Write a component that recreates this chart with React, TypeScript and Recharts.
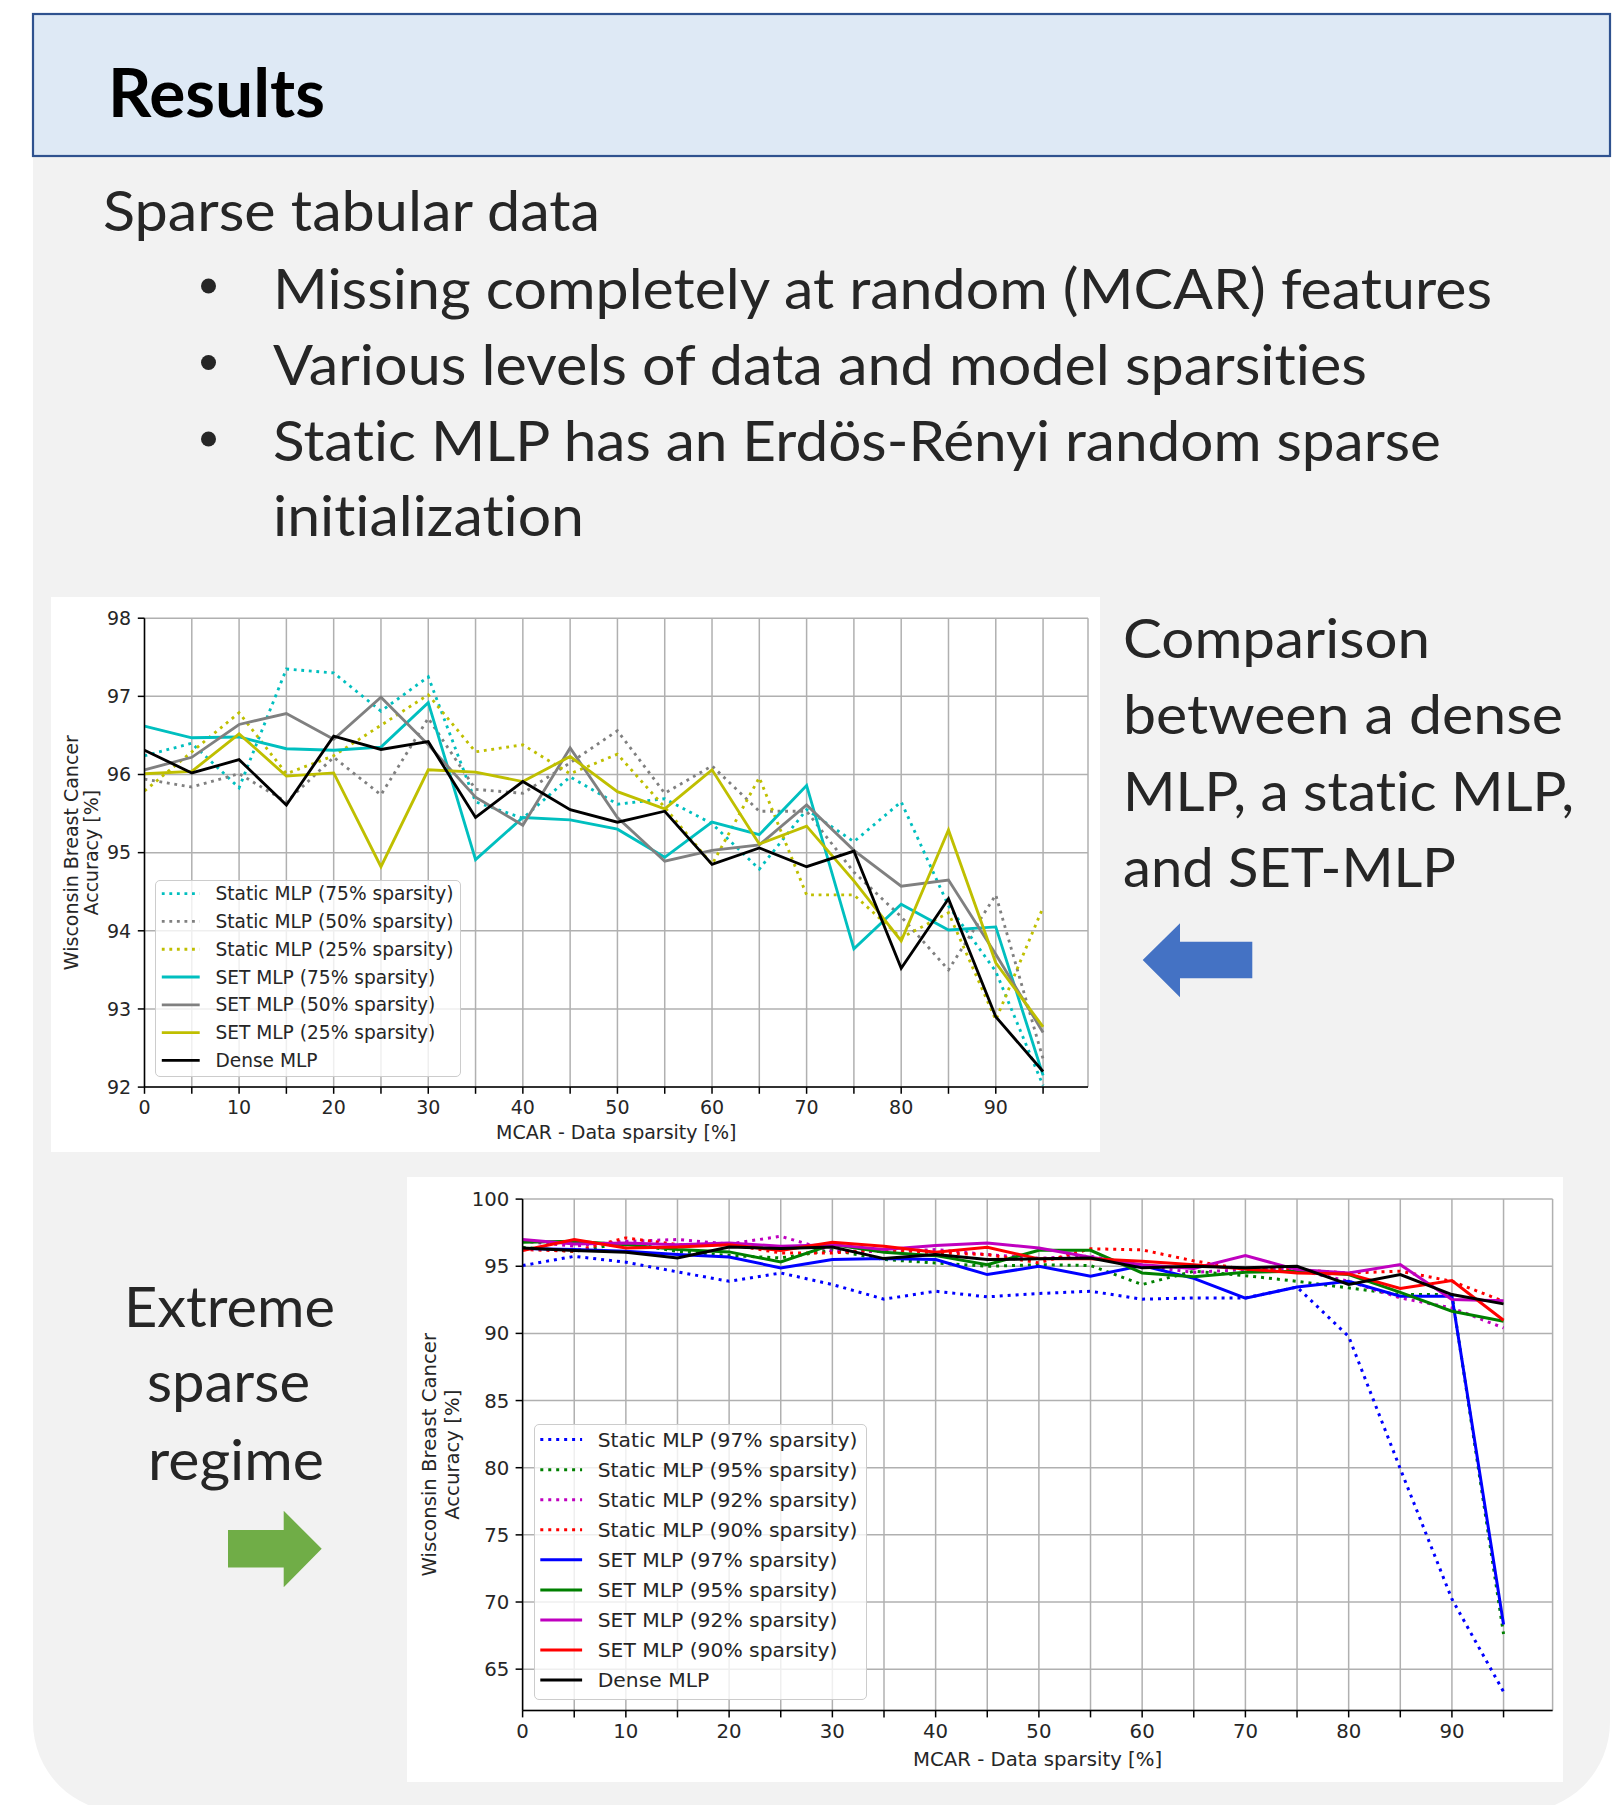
import React from 'react';
import { LineChart, Line, XAxis, YAxis, CartesianGrid, Legend } from 'recharts';

// ---------- shared x values ----------
const X_VALUES = [0, 5, 10, 15, 20, 25, 30, 35, 40, 45, 50, 55, 60, 65, 70, 75, 80, 85, 90, 95];
const X_DOMAIN_MAX = 99.75;

// ---------- chart 1 (comparison) ----------
const C1_Y_TICKS = [92, 93, 94, 95, 96, 97, 98];
const c1Static75 = [96.24, 96.4, 95.83, 97.35, 97.3, 96.81, 97.25, 95.65, 95.44, 95.97, 95.62, 95.69, 95.37, 94.79, 95.55, 95.14, 95.65, 94.32, 93.48, 92.02];
const c1Static50 = [95.94, 95.84, 96.01, 95.65, 96.22, 95.74, 96.72, 95.81, 95.76, 96.15, 96.56, 95.76, 96.11, 95.53, 95.53, 94.75, 94.18, 93.5, 94.46, 92.36];
const c1Static25 = [95.79, 96.29, 96.79, 96.01, 96.24, 96.63, 97.02, 96.29, 96.38, 96.01, 96.26, 95.58, 94.85, 95.96, 94.46, 94.46, 93.91, 94.23, 92.86, 94.3];
const c1Set75 = [96.62, 96.47, 96.48, 96.33, 96.31, 96.35, 96.92, 94.91, 95.45, 95.42, 95.3, 94.94, 95.39, 95.23, 95.86, 93.77, 94.34, 94.01, 94.05, 92.15];
const c1Set50 = [96.06, 96.22, 96.64, 96.78, 96.45, 96.99, 96.38, 95.71, 95.35, 96.34, 95.45, 94.89, 95.03, 95.1, 95.61, 95.03, 94.57, 94.65, 93.7, 92.7];
const c1Set25 = [96.01, 96.04, 96.52, 95.98, 96.02, 94.82, 96.06, 96.03, 95.91, 96.23, 95.78, 95.56, 96.06, 95.11, 95.34, 94.64, 93.87, 95.29, 93.59, 92.77];
const c1Dense = [96.31, 96.02, 96.19, 95.61, 96.49, 96.32, 96.42, 95.45, 95.91, 95.55, 95.39, 95.53, 94.85, 95.06, 94.82, 95.02, 93.52, 94.41, 92.9, 92.2];

const C1_SERIES = [
  { key: 's75', name: 'Static MLP (75% sparsity)', color: '#00bfbf', dotted: true, values: c1Static75 },
  { key: 's50', name: 'Static MLP (50% sparsity)', color: '#808080', dotted: true, values: c1Static50 },
  { key: 's25', name: 'Static MLP (25% sparsity)', color: '#bfbf00', dotted: true, values: c1Static25 },
  { key: 't75', name: 'SET MLP (75% sparsity)', color: '#00bfbf', dotted: false, values: c1Set75 },
  { key: 't50', name: 'SET MLP (50% sparsity)', color: '#808080', dotted: false, values: c1Set50 },
  { key: 't25', name: 'SET MLP (25% sparsity)', color: '#bfbf00', dotted: false, values: c1Set25 },
  { key: 'dense', name: 'Dense MLP', color: '#000000', dotted: false, values: c1Dense },
];

// ---------- chart 2 (extreme sparse regime) ----------
const C2_Y_TICKS = [65, 70, 75, 80, 85, 90, 95, 100];
const C2_Y_MIN = 61.93;
const c2Static97 = [95.05, 95.74, 95.3, 94.58, 93.88, 94.5, 93.64, 92.55, 93.14, 92.72, 92.97, 93.14, 92.55, 92.64, 92.64, 93.45, 89.77, 79.92, 70.22, 63.32];
const c2Static95 = [96.4, 96.1, 96.75, 96.1, 95.8, 95.62, 96.2, 95.5, 95.25, 95.0, 95.12, 95.05, 93.64, 94.63, 94.3, 93.88, 93.39, 92.89, 92.89, 67.62];
const c2Static92 = [96.86, 96.49, 96.86, 96.99, 96.66, 97.23, 96.12, 96.1, 96.24, 95.87, 95.6, 95.75, 95.0, 94.55, 94.75, 94.75, 93.88, 92.64, 91.9, 90.41];
const c2Static90 = [96.24, 96.12, 97.11, 96.61, 96.61, 95.99, 95.99, 96.24, 96.0, 95.87, 95.25, 96.3, 96.22, 95.4, 94.75, 94.75, 94.5, 94.63, 93.88, 92.39];
const c2Set97 = [96.32, 96.24, 96.12, 95.87, 95.69, 94.88, 95.5, 95.57, 95.5, 94.38, 95.0, 94.26, 95.05, 94.1, 92.62, 93.46, 93.88, 92.77, 92.77, 68.33];
const c2Set95 = [96.79, 96.86, 96.61, 96.24, 96.07, 95.32, 96.61, 96.04, 95.79, 95.12, 96.19, 96.19, 94.5, 94.22, 94.55, 94.63, 94.38, 93.06, 91.65, 90.91];
const c2Set92 = [96.99, 96.66, 96.74, 96.61, 96.74, 96.49, 96.61, 96.24, 96.54, 96.74, 96.36, 95.67, 95.12, 94.84, 95.79, 94.75, 94.5, 95.12, 92.52, 92.44];
const c2Set90 = [96.17, 96.99, 96.36, 96.44, 96.61, 96.17, 96.79, 96.49, 96.04, 96.41, 95.55, 95.55, 95.37, 95.12, 94.8, 94.5, 94.43, 93.34, 93.93, 90.98];
const c2Dense = [96.36, 96.17, 96.04, 95.62, 96.44, 96.32, 96.44, 95.57, 95.87, 95.5, 95.55, 95.62, 94.88, 95.0, 94.88, 95.0, 93.64, 94.38, 92.89, 92.2];

const C2_SERIES = [
  { key: 's97', name: 'Static MLP (97% sparsity)', color: '#0000ff', dotted: true, values: c2Static97 },
  { key: 's95', name: 'Static MLP (95% sparsity)', color: '#008000', dotted: true, values: c2Static95 },
  { key: 's92', name: 'Static MLP (92% sparsity)', color: '#bf00bf', dotted: true, values: c2Static92 },
  { key: 's90', name: 'Static MLP (90% sparsity)', color: '#ff0000', dotted: true, values: c2Static90 },
  { key: 't97', name: 'SET MLP (97% sparsity)', color: '#0000ff', dotted: false, values: c2Set97 },
  { key: 't95', name: 'SET MLP (95% sparsity)', color: '#008000', dotted: false, values: c2Set95 },
  { key: 't92', name: 'SET MLP (92% sparsity)', color: '#bf00bf', dotted: false, values: c2Set92 },
  { key: 't90', name: 'SET MLP (90% sparsity)', color: '#ff0000', dotted: false, values: c2Set90 },
  { key: 'dense', name: 'Dense MLP', color: '#000000', dotted: false, values: c2Dense },
];

const X_LABEL = 'MCAR - Data sparsity [%]';
const Y_LABEL_1 = 'Wisconsin Breast Cancer';
const Y_LABEL_2 = 'Accuracy [%]';

const MPL_FONT = "'DejaVu Sans', Verdana, sans-serif";
const POSTER_FONT = "Lato, 'Open Sans', sans-serif";
const TXT = '#262626';

function buildRows(series: any[]) {
  return X_VALUES.map((x, i) => {
    const row: any = { x };
    series.forEach((s) => { row[s.key] = s.values[i]; });
    return row;
  });
}

function LegendBox(p: any) {
  const { series, width, height, fontSize, rowStart, rowGap, lineX1, lineX2, textX, lw, dash } = p;
  return (
    <div style={{ position: 'relative', width, height }}>
      <div style={{ position: 'absolute', inset: 0, background: 'rgba(255,255,255,0.8)', border: '1.5px solid #cccccc', borderRadius: 5, boxSizing: 'border-box' }} />
      <svg width={width} height={height} style={{ position: 'absolute', left: 0, top: 0, display: 'block' }}>
        {series.map((s: any, i: number) => {
          const y = rowStart + i * rowGap;
          return (
            <g key={s.key}>
              <line x1={lineX1} x2={lineX2} y1={y} y2={y} stroke={s.color} strokeWidth={lw} strokeDasharray={s.dotted ? dash : undefined} />
              <text x={textX} y={y} dominantBaseline="central" fontFamily={MPL_FONT} fontSize={fontSize} fill={TXT}>{s.name}</text>
            </g>
          );
        })}
      </svg>
    </div>
  );
}

function Chart(props: any) {
  const c = props.cfg;
  const rows = buildRows(c.series);
  const plotH = c.height - c.plotTop - c.plotBottom;
  const plotW = c.width - c.plotLeft - c.plotRight;
  const cy = c.plotTop + plotH / 2;
  const cx = c.plotLeft + plotW / 2;
  const tickStyle = { fontSize: c.fontSize, fill: TXT, fontFamily: MPL_FONT };
  return (
    <div style={{ position: 'absolute', left: c.left, top: c.top, width: c.width, height: c.height, background: '#ffffff' }}>
      <LineChart width={c.width} height={c.height} data={rows} margin={{ top: c.plotTop, right: c.plotRight, bottom: 0, left: 0 }}>
        <CartesianGrid stroke="#b0b0b0" strokeWidth={1.5} />
        <XAxis
          dataKey="x"
          type="number"
          domain={[0, X_DOMAIN_MAX]}
          allowDataOverflow
          ticks={X_VALUES}
          interval={0}
          height={c.plotBottom}
          tickFormatter={(v: number) => (v % 10 === 0 ? String(v) : '')}
          tick={tickStyle}
          tickSize={c.tickSize}
          tickMargin={c.xTickMargin}
          tickLine={{ stroke: '#000', strokeWidth: 1.5 }}
          axisLine={{ stroke: '#000', strokeWidth: 1.5 }}
          label={{
            content: () => (
              <text x={cx} y={c.height - c.xLabelOffset} textAnchor="middle" fontFamily={MPL_FONT} fontSize={c.fontSize} fill={TXT}>{X_LABEL}</text>
            ),
          }}
        />
        <XAxis xAxisId="top" orientation="top" type="number" domain={[0, X_DOMAIN_MAX]} allowDataOverflow height={0} tick={false} tickLine={false} axisLine={{ stroke: '#000', strokeWidth: 1.5 }} />
        <YAxis
          type="number"
          domain={c.yDomain}
          allowDataOverflow
          ticks={c.yTicks}
          interval={0}
          width={c.plotLeft}
          tick={tickStyle}
          tickSize={c.tickSize}
          tickMargin={c.yTickMargin}
          tickLine={{ stroke: '#000', strokeWidth: 1.5 }}
          axisLine={{ stroke: '#000', strokeWidth: 1.5 }}
          label={{
            content: () => (
              <g fontFamily={MPL_FONT} fontSize={c.fontSize} fill={TXT}>
                <text x={c.yLab1} y={cy} textAnchor="middle" transform={`rotate(-90 ${c.yLab1} ${cy})`}>{Y_LABEL_1}</text>
                <text x={c.yLab2} y={cy} textAnchor="middle" transform={`rotate(-90 ${c.yLab2} ${cy})`}>{Y_LABEL_2}</text>
              </g>
            ),
          }}
        />
        <YAxis yAxisId="right" orientation="right" type="number" domain={c.yDomain} allowDataOverflow width={0} tick={false} tickLine={false} axisLine={{ stroke: '#000', strokeWidth: 1.5 }} />
        {c.series.map((s: any) => (
          <Line
            key={s.key}
            dataKey={s.key}
            name={s.name}
            type="linear"
            stroke={s.color}
            strokeWidth={c.lw}
            strokeDasharray={s.dotted ? c.dash : undefined}
            dot={false}
            activeDot={false}
            isAnimationActive={false}
          />
        ))}
        <Legend
          layout="vertical"
          align="center"
          verticalAlign="middle"
          wrapperStyle={{ left: c.legend.left, top: c.legend.top, right: 'auto', bottom: 'auto', width: c.legend.width, height: c.legend.height }}
          content={() => <LegendBox series={c.series} fontSize={c.legendFont} lw={c.lw} dash={c.dash} {...c.legend} />}
        />
      </LineChart>
    </div>
  );
}

const CHART1 = {
  left: 51, top: 597, width: 1049, height: 555,
  plotLeft: 93.5, plotTop: 21.2, plotRight: 12, plotBottom: 64.9,
  yDomain: [92, 98], yTicks: C1_Y_TICKS, series: C1_SERIES,
  fontSize: 19, legendFont: 18.6, lw: 2.85, dash: '2.85 4.7',
  tickSize: 6.7, xTickMargin: 6.6, yTickMargin: 6.7,
  xLabelOffset: 13.4, yLab1: 27, yLab2: 47,
  legend: { left: 103.6, top: 282.6, width: 306, height: 197.4, rowStart: 13.6, rowGap: 27.8, lineX1: 6.8, lineX2: 44.7, textX: 60.4 },
};

const CHART2 = {
  left: 407, top: 1177, width: 1156, height: 605,
  plotLeft: 115.6, plotTop: 22.1, plotRight: 10.4, plotBottom: 71.6,
  yDomain: [C2_Y_MIN, 100], yTicks: C2_Y_TICKS, series: C2_SERIES,
  fontSize: 19.7, legendFont: 20.3, lw: 3, dash: '3 4.95',
  tickSize: 7, xTickMargin: 7, yTickMargin: 6.3,
  xLabelOffset: 16, yLab1: 29.4, yLab2: 51.5,
  legend: { left: 126.7, top: 247, width: 333, height: 275.5, rowStart: 15.6, rowGap: 30.06, lineX1: 6.3, lineX2: 48.1, textX: 63.7 },
};

const NOLIG: any = { fontVariantLigatures: 'none', fontFeatureSettings: '"liga" 0, "clig" 0' };

function Poster() {
  return (
    <svg width={1623} height={1805} style={{ position: 'absolute', left: 0, top: 0, display: 'block' }}>
      <rect x={0} y={0} width={1623} height={1805} fill="#ffffff" />
      <path d="M33,14 H1610 V1722 A90,90 0 0 1 1520,1812 H123 A90,90 0 0 1 33,1722 Z" fill="#f2f2f2" />
      <rect x={33} y={14} width={1577} height={142} fill="#dee9f5" stroke="#2f528f" strokeWidth={2.2} />
      <text x={108} y={116.5} style={NOLIG} fontFamily={POSTER_FONT} fontWeight={700} fontSize={66} fill="#000" textLength={217} lengthAdjust="spacingAndGlyphs">Results</text>
      <g fontFamily={POSTER_FONT} fontSize={57} fill={TXT} style={NOLIG}>
        <text x={103} y={230.5} textLength={497} lengthAdjust="spacingAndGlyphs">Sparse tabular data</text>
        <text x={273} y={308.5} textLength={1219} lengthAdjust="spacingAndGlyphs">Missing completely at random (MCAR) features</text>
        <text x={273} y={384.5} textLength={1094} lengthAdjust="spacingAndGlyphs">Various levels of data and model sparsities</text>
        <text x={273} y={460.5} textLength={1168} lengthAdjust="spacingAndGlyphs">Static MLP has an Erdös-Rényi random sparse</text>
        <text x={273} y={536} textLength={311} lengthAdjust="spacingAndGlyphs">initialization</text>
      </g>
      <circle cx={208.5} cy={286} r={7.5} fill={TXT} />
      <circle cx={208.5} cy={362.5} r={7.5} fill={TXT} />
      <circle cx={208.5} cy={439} r={7.5} fill={TXT} />
      <g fontFamily={POSTER_FONT} fontSize={54} fill={TXT} style={NOLIG}>
        <text x={1123} y={657.7} textLength={307} lengthAdjust="spacingAndGlyphs">Comparison</text>
        <text x={1123} y={733.5} textLength={440} lengthAdjust="spacingAndGlyphs">between a dense</text>
        <text x={1123} y={810.5} textLength={451} lengthAdjust="spacingAndGlyphs">MLP, a static MLP,</text>
        <text x={1123} y={886.5} textLength={333} lengthAdjust="spacingAndGlyphs">and SET-MLP</text>
      </g>
      <polygon points="1142.7,960 1180,923.3 1180,941.7 1252.3,941.7 1252.3,978.3 1180,978.3 1180,997.3" fill="#4472c4" />
      <g fontFamily={POSTER_FONT} fontSize={57} fill={TXT} style={NOLIG}>
        <text x={124} y={1326.7} textLength={211} lengthAdjust="spacingAndGlyphs">Extreme</text>
        <text x={147} y={1402.4} textLength={163} lengthAdjust="spacingAndGlyphs">sparse</text>
        <text x={148} y={1479.7} textLength={176} lengthAdjust="spacingAndGlyphs">regime</text>
      </g>
      <polygon points="228,1530 283.7,1530 283.7,1510.8 321.7,1548.7 283.7,1587.3 283.7,1567.4 228,1567.4" fill="#70ad47" />
    </svg>
  );
}

export default function App() {
  return (
    <div style={{ position: 'absolute', left: 0, top: 0, width: 1623, height: 1805, overflow: 'hidden', background: '#fff' }}>
      <Poster />
      <Chart cfg={CHART1} />
      <Chart cfg={CHART2} />
    </div>
  );
}
